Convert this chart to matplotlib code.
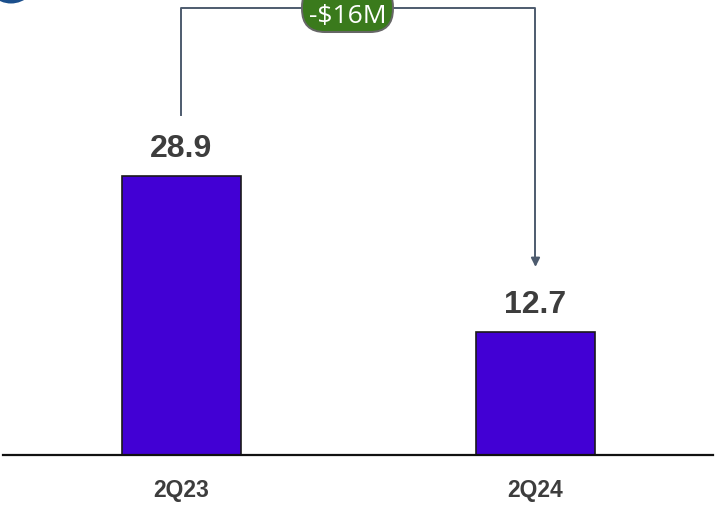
import matplotlib
matplotlib.use("Agg")
import matplotlib.pyplot as plt
from matplotlib.patches import FancyBboxPatch, Circle

quarters = ["2Q23", "2Q24"]
values = [28.9, 12.7]
change_label = "-$16M"

bar_color = "#4200d4"
text_color = "#3d3d3d"
line_color = "#4d5b6e"

fig = plt.figure(figsize=(7.16, 5.05), dpi=100)
ax = fig.add_axes([0, 0, 1, 1])
ax.set_xlim(-0.5127, 1.5099)
ax.set_ylim(-5.18, 47.15)
ax.axis("off")

x = range(len(values))
ax.bar(x, values, width=0.336, color=bar_color, edgecolor="#1a1a1a", linewidth=1.2, zorder=2)

# baseline
ax.plot([-0.504, 1.501], [0, 0], color="#111111", lw=1.6, zorder=3)

for xi, v, q in zip(x, values, quarters):
    ax.text(xi, v + 2.0, f"{v:.1f}", ha="center", va="baseline", fontsize=23,
            fontweight="bold", color=text_color, family="Liberation Sans")
    ax.text(xi, -4.35, q, ha="center", va="baseline", fontsize=16.5,
            fontweight="bold", color=text_color, family="Liberation Sans")

# change connector between the two bars
y_top = 46.3
ax.plot([0, 0, 1, 1], [values[0] + 6.3, y_top, y_top, values[1] + 7.6],
        color=line_color, lw=1.4, zorder=1)
ax.annotate("", xy=(1, values[1] + 6.5), xytext=(1, values[1] + 8.0),
            arrowprops=dict(arrowstyle="-|>", color=line_color, lw=1.4,
                            mutation_scale=13), zorder=1)

# rounded pill holding the change amount
pill = FancyBboxPatch((0.3404, 43.83), 0.257, 5.0,
                      boxstyle="round,pad=0,rounding_size=0.065",
                      facecolor="#3a7a1c", edgecolor="#666666", lw=1.4,
                      mutation_aspect=36.7, zorder=4)
ax.add_patch(pill)
ax.text(0.469, 44.77, change_label, ha="center", va="baseline", fontsize=19,
        color="white", family="Open Sans", zorder=5)

# logo circle peeking at top-left corner
fig.patches.append(Circle((0.11, 5.275), 0.26, transform=fig.dpi_scale_trans,
                          facecolor="#1b4f8c", edgecolor="none"))

fig.savefig("out.png", dpi=100)
